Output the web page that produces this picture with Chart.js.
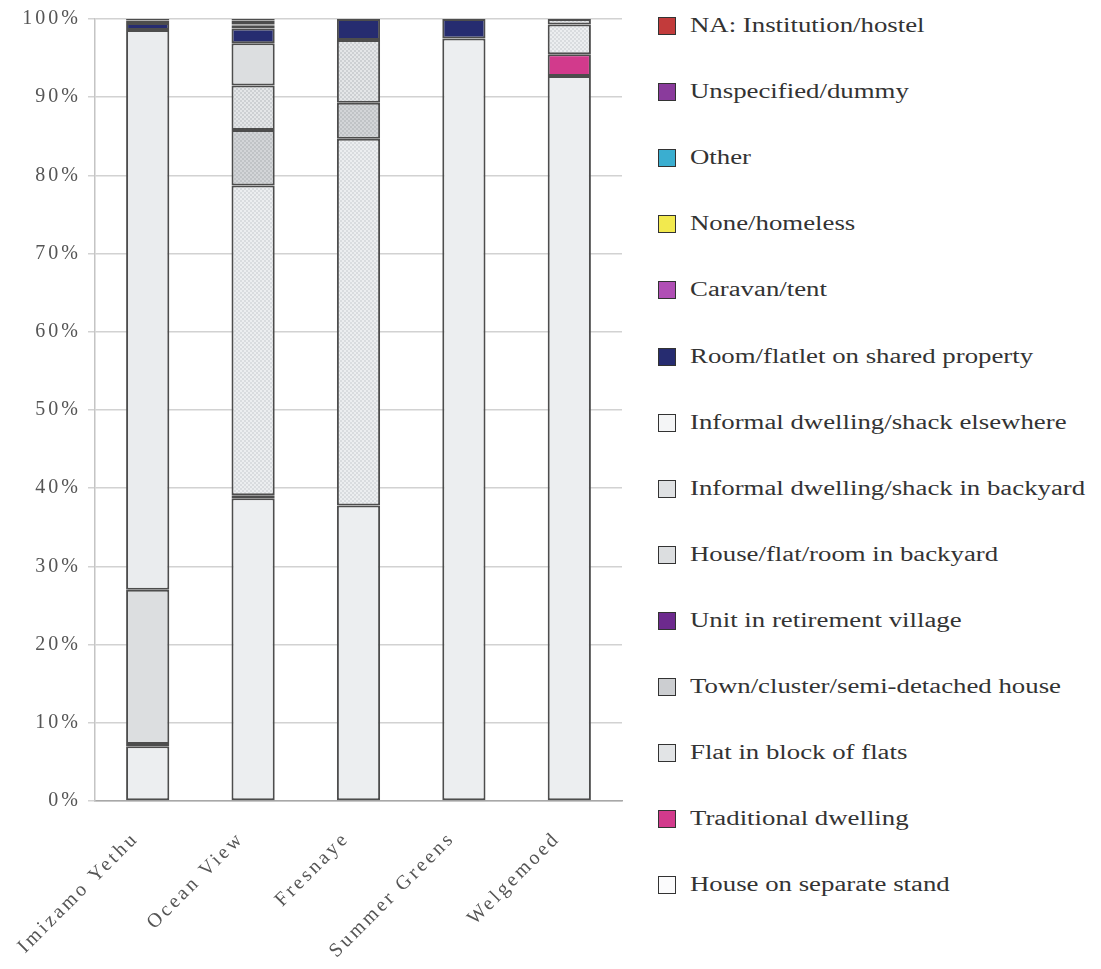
<!DOCTYPE html>
<html>
<head>
<meta charset="utf-8">
<script src="https://cdn.jsdelivr.net/npm/chart.js@4.4.1/dist/chart.umd.min.js"></script>
<style>
  body { margin: 0; background: #fff; }
  #wrap { position: relative; width: 1101px; height: 969px; }
  #myChart { position: absolute; left: 0; top: 0; }
  #legend { position: absolute; left: 658px; top: 0; font-family: "Liberation Serif", serif; color: #333; }
  .item { position: absolute; left: 0; white-space: nowrap; }
  .box { position: absolute; left: 0; top: 0; width: 18px; height: 18px; border: 1.5px solid #333; box-sizing: border-box; }
  .txt { position: absolute; left: 32px; top: -3px; font-size: 20px; transform: scaleX(1.34); transform-origin: left center; }
</style>
</head>
<body>
<div id="wrap">
  <canvas id="myChart" width="640" height="969"></canvas>
  <div id="legend"></div>
</div>
<script>
// areas and dwelling types, values in % of households
const areas = ['Imizamo Yethu', 'Ocean View', 'Fresnaye', 'Summer Greens', 'Welgemoed'];
const yTicks = [0, 10, 20, 30, 40, 50, 60, 70, 80, 90, 100];

const houseSeparate  = [7.0, 38.7, 37.8, 97.5, 92.7];
const traditional    = [0.3, 0.4, 0, 0, 2.8];
const flatBlock      = [0, 39.6, 46.9, 0, 3.8];
const townCluster    = [0, 7.1, 4.6, 0, 0];
const retirement     = [0, 0, 0, 0, 0];
const backyardHouse  = [0, 5.7, 8.0, 0, 0.7];
const backyardShack  = [19.7, 5.4, 0, 0, 0];
const shackElsewhere = [71.6, 0, 0, 0, 0];
const roomFlatlet    = [0.9, 1.9, 2.7, 2.5, 0];
const caravan        = [0, 0.4, 0, 0, 0];
const homeless       = [0, 0, 0, 0, 0];
const other          = [0, 0.1, 0, 0, 0];
const unspecified    = [0.3, 0.5, 0, 0, 0];
const institution    = [0.2, 0.2, 0, 0, 0];

const names = ['House on separate stand', 'Traditional dwelling', 'Flat in block of flats',
  'Town/cluster/semi-detached house', 'Unit in retirement village', 'House/flat/room in backyard',
  'Informal dwelling/shack in backyard', 'Informal dwelling/shack elsewhere',
  'Room/flatlet on shared property', 'Caravan/tent', 'None/homeless', 'Other',
  'Unspecified/dummy', 'NA: Institution/hostel'];
const values = [houseSeparate, traditional, flatBlock, townCluster, retirement, backyardHouse,
  backyardShack, shackElsewhere, roomFlatlet, caravan, homeless, other, unspecified, institution];

const ctx = document.getElementById('myChart').getContext('2d');

// piccolo retino a scacchi per i riempimenti "tratteggiati"
function dots(base, dot) {
  const c = document.createElement('canvas');
  c.width = 4; c.height = 4;
  const g = c.getContext('2d');
  g.fillStyle = base; g.fillRect(0, 0, 4, 4);
  g.fillStyle = dot; g.fillRect(0, 0, 2, 2); g.fillRect(2, 2, 2, 2);
  return ctx.createPattern(c, 'repeat');
}

const swatch = ['#fbfbfc', '#d23a8c', '#e2e4e6', '#ccced1', '#6d2a8e', '#dcdee0',
  '#dfe1e3', '#f4f5f6', '#262c70', '#b04fb5', '#f2e94e', '#3aaed0', '#8a3b9c', '#c23b3b'];
const fills = [
  '#eceef0',
  '#d23a8c',
  dots('#eceef0', '#d9dcdf'),
  dots('#d3d5d8', '#c0c3c6'),
  '#6d2a8e',
  dots('#e4e6e8', '#cdd0d3'),
  '#dcdee0',
  '#eaecee',
  '#262c70',
  '#b04fb5',
  '#f2e94e',
  '#3aaed0',
  '#a2459f',
  '#c23b3b'
];

const datasets = names.map((n, i) => ({
  label: n,
  data: values[i],
  backgroundColor: fills[i],
  borderColor: '#4d4d4d',
  borderWidth: 2,
  borderSkipped: false,
  barPercentage: 0.41,
  categoryPercentage: 1
}));

// testo degli assi un po' spaziato come nella scansione
const spacing = {
  id: 'spacing',
  beforeLayout(chart) { chart.ctx.letterSpacing = '3px'; },
  beforeDraw(chart) { chart.ctx.letterSpacing = '3px'; }
};

const tickFont = { family: '"Liberation Serif", serif', size: 20 };

const myChart = new Chart(ctx, {
  type: 'bar',
  data: { labels: areas, datasets: datasets },
  plugins: [spacing],
  options: {
    responsive: false,
    animation: false,
    layout: { padding: { top: 17, right: 18 } },
    plugins: { legend: { display: false }, tooltip: { enabled: false } },
    scales: {
      x: {
        stacked: true,
        grid: { display: false },
        border: { color: '#a8a8a8', width: 1.5 },
        ticks: { font: tickFont, color: '#555', minRotation: 45, maxRotation: 45, padding: 18, labelOffset: -12 },
        afterFit: (scale) => { scale.height = 168; }
      },
      y: {
        stacked: true,
        min: 0,
        max: 100,
        afterBuildTicks: (scale) => { scale.ticks = yTicks.map(v => ({ value: v })); },
        grid: { color: '#d2d2d2', lineWidth: 1.5, tickLength: 7 },
        border: { color: '#c4c4c4', width: 1.5 },
        ticks: { font: tickFont, color: '#555', padding: 7, callback: (v) => v + '%' },
        afterFit: (scale) => { scale.width = 95; }
      }
    }
  }
});

// legenda in ordine inverso, come nell'originale
const legend = document.getElementById('legend');
for (let i = names.length - 1; i >= 0; i--) {
  const row = names.length - 1 - i;
  const item = document.createElement('div');
  item.className = 'item';
  item.style.top = (17 + row * 66.1) + 'px';
  item.innerHTML = '<div class="box" style="background:' + swatch[i] + '"></div><span class="txt">' + names[i] + '</span>';
  legend.appendChild(item);
}
</script>
</body>
</html>
